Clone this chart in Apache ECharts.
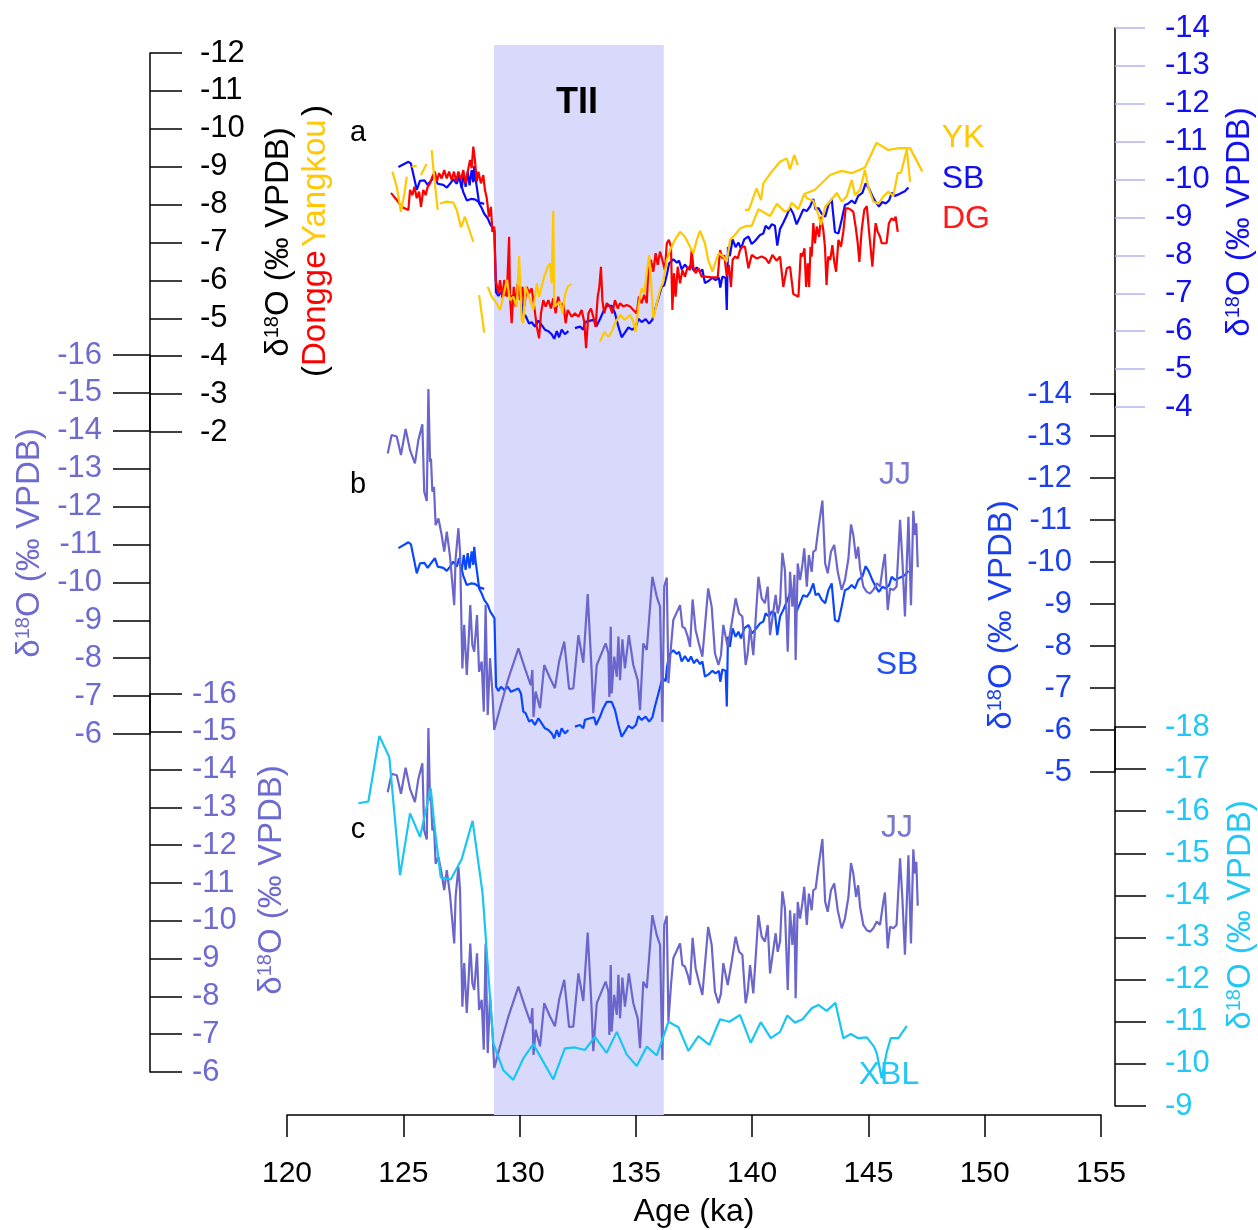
<!DOCTYPE html>
<html>
<head>
<meta charset="utf-8">
<title>TII δ18O records</title>
<script src="https://cdn.jsdelivr.net/npm/echarts@6/dist/echarts.min.js"></script>
<style>
    html, body { margin: 0; padding: 0; background: #fff; }
    #main { width: 1258px; height: 1230px; }
</style>
</head>
<body>
<div id="main"></div>
<script>
    // ---------------- data (age in ka, δ18O in ‰ VPDB) ----------------
    var tiiBand = [128.9, 136.2];

    // Dongge (panel a, left axis)
    var dgData = [
        [124.47,-8.31],[124.72,-8.12],[124.93,-7.94],[125.22,-7.86],[125.29,-8.39],[125.39,-8.25],[125.48,-8.47],
        [125.58,-8.17],[125.68,-8.34],[125.76,-7.94],[125.86,-8.39],[125.96,-8.25],[126.05,-8.47],[126.15,-8.56],
        [126.25,-8.74],[126.36,-8.87],[126.44,-8.61],[126.54,-8.83],[126.65,-8.69],[126.76,-8.91],[126.87,-8.69],
        [126.97,-8.87],[127.08,-8.65],[127.18,-8.87],[127.27,-8.61],[127.37,-8.87],[127.48,-8.65],[127.58,-8.91],
        [127.68,-8.56],[127.77,-8.87],[127.87,-9.18],[127.94,-8.96],[128.01,-9.53],[128.08,-9.18],[128.16,-8.61],
        [128.23,-8.87],[128.34,-8.56],[128.44,-8.78],[128.51,-8.39],[128.59,-8.17],[128.68,-7.68],[128.77,-7.94],
        [128.83,-7.28],[128.91,-7.42],[128.97,-6.01],[129.09,-5.66],[129.16,-6.01],[129.26,-5.53],[129.34,-6.01],
        [129.45,-5.57],[129.55,-7.15],[129.59,-5.57],[129.66,-4.87],[129.75,-5.83],[129.83,-5.31],[129.92,-5.92],
        [130.02,-5.48],[130.12,-5.83],[130.20,-5.31],[130.31,-5.83],[130.41,-5.66],[130.52,-5.79],[130.63,-5.31],
        [130.74,-4.78],[130.84,-4.47],[130.92,-5.13],[131.02,-5.48],[131.12,-5.31],[131.24,-5.48],[131.35,-5.26],
        [131.45,-5.53],[131.55,-5.13],[131.66,-5.57],[131.78,-5.31],[131.88,-5.40],[131.98,-4.87],[132.07,-5.22],
        [132.24,-5.04],[132.38,-5.13],[132.53,-5.04],[132.67,-5.22],[132.78,-4.91],[132.86,-4.21],[132.96,-5.13],
        [133.07,-5.26],[133.17,-5.04],[133.27,-4.78],[133.36,-5.57],[133.43,-5.83],[133.50,-6.36],[133.56,-5.48],
        [133.64,-5.13],[133.75,-5.40],[133.89,-5.31],[133.99,-5.13],[134.10,-5.48],[134.22,-5.26],[134.32,-5.40],
        [134.46,-5.31],[134.61,-5.35],[134.75,-5.31],[134.89,-5.22],[135.04,-5.13],[135.13,-5.57],[135.25,-5.40],
        [135.36,-5.62],[135.47,-5.40],[135.54,-6.36],[135.65,-6.54],[135.75,-6.23],[135.85,-6.72],[135.94,-6.41],
        [136.04,-6.76],[136.14,-6.54],[136.25,-6.27],[136.33,-6.98],[136.42,-7.07],[136.51,-6.89],[136.57,-5.22],
        [136.64,-6.19],[136.71,-5.57],[136.80,-6.36],[136.90,-5.92],[137.00,-6.27],[137.11,-6.10],[137.23,-6.36],
        [137.33,-6.27],[137.40,-6.80],[137.47,-6.36],[137.57,-6.19],[137.69,-6.32],[137.83,-6.10],[137.97,-6.10],
        [138.26,-6.08],[138.52,-6.08],[138.62,-6.80],[138.72,-6.58],[138.80,-6.67],[138.91,-6.10],[139.00,-6.41],
        [139.09,-5.83],[139.16,-6.54],[139.26,-6.63],[139.38,-6.58],[139.48,-6.80],[139.58,-6.89],[139.69,-6.89],
        [139.84,-6.32],[139.98,-6.67],[140.19,-6.58],[140.41,-6.63],[140.58,-6.58],[140.72,-6.45],[140.87,-6.67],
        [141.05,-6.52],[141.20,-6.63],[141.34,-5.83],[141.49,-6.32],[141.63,-6.36],[141.77,-5.64],[141.87,-5.61],
        [141.99,-5.57],[142.09,-6.72],[142.16,-6.63],[142.25,-6.85],[142.32,-5.83],[142.39,-6.45],[142.45,-5.83],
        [142.51,-6.89],[142.56,-6.63],[142.63,-7.51],[142.70,-6.98],[142.78,-7.42],[142.88,-7.15],[142.96,-7.68],
        [143.06,-7.33],[143.13,-6.89],[143.20,-5.88],[143.27,-6.63],[143.36,-6.54],[143.45,-6.93],[143.53,-6.49],
        [143.61,-6.23],[143.71,-7.07],[143.82,-6.89],[143.92,-7.28],[144.02,-7.90],[144.14,-7.90],[144.25,-7.86],
        [144.35,-7.81],[144.45,-7.42],[144.54,-6.98],[144.61,-6.49],[144.71,-7.33],[144.82,-7.86],[144.93,-7.96],
        [145.02,-7.33],[145.11,-6.76],[145.17,-6.36],[145.25,-7.07],[145.31,-7.51],[145.40,-7.28],[145.50,-7.15],
        [145.57,-6.98],[145.64,-6.93],[145.78,-6.98],[145.88,-7.51],[146.00,-7.64],[146.10,-7.58],[146.17,-7.68],
        [146.26,-7.28]
    ];

    // Yangkou (panel a, left axis), null = gap between pieces
    var ykData = [
        [124.53,-8.87],[124.72,-8.47],[124.90,-7.81],[125.05,-8.30],[125.15,-8.74], null,
        [125.36,-9.00],[125.58,-9.02], null,
        [125.76,-8.78],[126.00,-9.07], null,
        [126.22,-9.44],[126.34,-8.65],[126.48,-7.86], null,
        [126.58,-8.03],[126.87,-8.08],[127.15,-8.05],[127.30,-7.86],[127.48,-7.40],[127.65,-7.68],[127.83,-7.35],[128.01,-7.02], null,
        [128.26,-5.61],[128.48,-4.62], null,
        [128.63,-5.83],[128.80,-5.57],[129.01,-5.40],[129.16,-5.22],[129.30,-5.57],[129.45,-6.01],[129.59,-5.48],
        [129.73,-5.57],[129.88,-5.31],[129.98,-6.64],[130.09,-4.96],[130.16,-4.87],[130.26,-5.83],[130.38,-5.62],
        [130.59,-5.22],[130.74,-5.92],[130.84,-5.57],[130.95,-5.83],[131.06,-6.10],[131.21,-6.36],[131.31,-6.45],
        [131.38,-5.92],[131.45,-7.84],[131.49,-5.31],[131.74,-5.44],[131.84,-5.13],[131.95,-5.61],[132.07,-5.83],
        [132.17,-5.88],[132.24,-5.90], null,
        [133.46,-4.38],[133.64,-4.64],[133.82,-4.51],[133.96,-4.64],[134.10,-4.87],[134.32,-5.09],[134.53,-4.96],
        [134.75,-5.09],[134.89,-4.91],[134.99,-4.64],[135.13,-5.40],[135.25,-5.79],[135.36,-5.66],[135.47,-6.19],
        [135.57,-6.67],[135.65,-6.01],[135.75,-5.00],[135.90,-5.40],[136.04,-5.75],[136.18,-5.97],[136.33,-6.54],
        [136.47,-6.80],[136.68,-7.07],[136.90,-7.28],[137.11,-7.15],[137.33,-6.89],[137.47,-6.72],[137.62,-7.07],
        [137.76,-7.31],[137.97,-6.98],[138.11,-6.54],[138.29,-6.23],[138.48,-6.58],[138.57,-6.72],[138.76,-6.63],
        [138.91,-6.49],[139.05,-7.07],[139.26,-7.20],[139.48,-7.37],[139.77,-7.44],[139.98,-7.44],[140.27,-7.88],
        [140.77,-7.70],[141.06,-8.02],[141.41,-7.81],[141.56,-7.86],[141.70,-8.05],[141.99,-7.88],[142.24,-8.28],
        [142.70,-8.39],[143.35,-8.78],[143.85,-8.89],[144.28,-8.83],[144.85,-8.98],[145.35,-9.63],[145.85,-9.44],
        [146.29,-9.49],[146.79,-9.49],[147.32,-8.87], null,
        [139.69,-7.86],[139.86,-7.86],[140.19,-8.43],[140.38,-8.12],[140.48,-8.56],[140.84,-8.87],[141.20,-9.13],
        [141.49,-9.22],[141.63,-8.93],[141.81,-9.31],[141.96,-9.04], null,
        [142.24,-8.28],[142.35,-8.17],[142.63,-8.10],[142.82,-7.79],[142.96,-7.46],[143.13,-7.93],[143.39,-8.12],
        [143.64,-8.31],[143.85,-8.08],[144.06,-8.21],[144.28,-8.65],[144.42,-8.25],[144.64,-8.39],[144.85,-8.91],
        [144.99,-8.47],[145.21,-8.08],[145.42,-8.02],[145.64,-8.21],[145.85,-8.34],[146.07,-8.23],[146.26,-8.83],
        [146.40,-8.84],[146.46,-8.83],[146.65,-9.46],[146.79,-8.60]
    ];

    // Sanbao (panels a and b, right axes)
    var sbData = [
        [124.79,-10.33],[125.22,-10.47],[125.33,-10.42],[125.58,-9.73],[125.72,-9.97],[125.91,-9.98],[126.05,-9.86],
        [126.19,-9.97],[126.36,-10.09],[126.48,-9.89],[126.72,-9.86],[126.87,-9.79],[127.01,-9.89],[127.15,-10.01],
        [127.30,-9.89],[127.40,-10.09],[127.51,-9.77],[127.60,-10.17],[127.68,-9.81],[127.77,-10.21],[127.85,-9.85],
        [127.94,-10.25],[128.01,-9.93],[128.05,-10.36],[128.11,-10.01],[128.17,-9.77],[128.26,-9.37],[128.37,-9.25],
        [128.48,-9.10],[128.63,-8.98],[128.74,-8.82],[128.83,-8.74],[128.92,-8.66],[128.99,-7.03],[129.09,-6.93],
        [129.20,-7.03],[129.34,-6.95],[129.49,-7.03],[129.63,-6.91],[129.80,-6.95],[129.95,-6.99],[130.06,-6.87],
        [130.16,-6.44],[130.26,-6.40],[130.41,-6.20],[130.52,-6.24],[130.66,-6.12],[130.81,-6.28],[130.95,-6.16],
        [131.09,-6.04],[131.24,-6.00],[131.38,-5.92],[131.49,-5.80],[131.60,-6.00],[131.70,-5.84],[131.81,-6.04],
        [131.95,-5.92],[132.10,-6.00], null,
        [132.38,-6.08],[132.60,-6.12],[132.74,-6.04],[132.81,-6.24],[133.03,-6.28],[133.21,-6.30],[133.29,-6.12],
        [133.46,-6.32],[133.60,-6.52],[133.75,-6.67],[133.96,-6.67],[134.10,-6.48],[134.25,-6.12],[134.39,-5.84],
        [134.53,-5.96],[134.68,-6.10],[134.85,-6.04],[135.00,-6.12],[135.11,-6.33],[135.25,-6.24],[135.42,-6.32],
        [135.57,-6.20],[135.71,-6.30],[135.82,-6.56],[135.97,-6.87],[136.11,-7.17],[136.22,-7.21],[136.28,-7.16],
        [136.34,-7.51],[136.43,-7.79],[136.61,-7.90],[136.76,-7.81],[136.86,-7.86],[136.97,-7.63],[137.11,-7.76],
        [137.26,-7.63],[137.37,-7.75],[137.50,-7.59],[137.62,-7.68],[137.76,-7.57],[137.86,-7.63],[137.97,-7.27],
        [138.14,-7.33],[138.29,-7.41],[138.43,-7.35],[138.57,-7.41],[138.63,-7.15],[138.72,-7.44],[138.86,-7.41],
        [138.91,-6.56],[138.96,-8.22],[139.04,-7.98],[139.16,-8.42],[139.29,-8.22],[139.41,-8.34],[139.52,-8.18],
        [139.66,-8.42],[139.84,-8.50],[139.98,-8.30],[140.12,-8.38],[140.34,-8.54],[140.48,-8.58],[140.58,-8.78],
        [140.72,-8.70],[140.84,-8.82],[140.98,-8.78],[141.08,-8.26],[141.20,-8.70],[141.34,-8.86],[141.49,-9.06],
        [141.63,-9.26],[141.77,-9.10],[141.91,-8.82],[142.06,-9.02],[142.20,-9.21],[142.35,-9.17],[142.49,-9.29],
        [142.63,-9.49],[142.73,-9.21],[142.85,-9.25],[142.99,-9.10],[143.14,-9.02],[143.28,-9.33],[143.42,-9.49],
        [143.56,-8.62],[143.71,-8.58],[143.85,-8.94],[143.99,-9.33],[144.14,-9.37],[144.28,-9.45],[144.42,-9.37],
        [144.56,-9.57],[144.74,-9.65],[144.88,-9.90],[145.02,-9.77],[145.17,-9.57],[145.31,-9.41],[145.45,-9.29],
        [145.60,-9.41],[145.74,-9.37],[145.89,-9.45],[146.00,-9.65],[146.14,-9.57],[146.29,-9.61],[146.43,-9.65],
        [146.57,-9.69],[146.72,-9.79], null,
        [127.50,-9.85],[127.58,-9.67],[127.73,-9.45],[127.91,-9.49],[128.08,-9.48],[128.30,-9.39],[128.48,-9.36]
    ];

    // Jiangjun (panels b and c, left axes)
    var jjData = [
        [124.33,-13.40],[124.50,-13.89],[124.72,-13.85],[124.90,-13.36],[125.10,-14.05],[125.29,-13.49],[125.50,-13.14],
        [125.65,-13.76],[125.82,-14.17],[125.90,-12.39],[126.01,-12.15],[126.08,-15.10],[126.15,-13.18],[126.19,-13.27],
        [126.25,-12.39],[126.32,-12.52],[126.39,-11.51],[126.51,-11.69],[126.65,-11.25],[126.76,-10.81],[126.87,-11.34],
        [127.01,-10.68],[127.08,-10.72],[127.19,-9.40],[127.25,-10.63],[127.37,-11.43],[127.44,-10.81],[127.54,-7.73],
        [127.62,-8.88],[127.73,-7.56],[127.80,-8.35],[127.88,-9.40],[127.97,-8.35],[128.05,-8.17],[128.17,-9.14],
        [128.26,-7.64],[128.37,-7.91],[128.46,-6.59],[128.54,-9.40],[128.63,-6.50],[128.73,-8.00],[128.83,-7.12],
        [128.91,-6.11],[129.16,-6.68],[129.52,-7.47],[129.95,-8.26],[130.23,-7.73],[130.48,-7.29],[130.55,-7.69],
        [130.60,-6.45],[130.69,-7.12],[130.88,-6.68],[131.06,-7.82],[131.31,-7.47],[131.52,-7.21],[131.70,-7.91],
        [131.92,-8.44],[132.13,-7.19],[132.31,-7.20],[132.53,-8.61],[132.74,-7.88],[132.93,-9.69],[133.10,-7.64],
        [133.17,-6.55],[133.32,-7.82],[133.70,-8.39],[133.82,-8.13],[133.86,-6.98],[133.92,-8.83],[133.96,-7.07],
        [134.07,-8.04],[134.18,-7.51],[134.25,-8.57],[134.32,-7.42],[134.42,-8.50],[134.53,-7.73],[134.70,-8.61],
        [134.89,-7.82],[134.96,-7.86],[135.08,-7.42],[135.18,-6.63],[135.32,-8.39],[135.47,-8.22],[135.71,-10.15],
        [135.90,-9.62],[136.04,-9.36],[136.14,-6.32],[136.22,-9.89],[136.33,-10.13],[136.40,-7.34],[136.51,-8.30],
        [136.61,-9.01],[136.90,-9.40],[137.00,-8.83],[137.11,-8.79],[137.23,-8.57],[137.33,-8.30],[137.44,-9.55],
        [137.57,-8.74],[137.71,-8.39],[137.86,-8.04],[138.11,-9.84],[138.26,-9.36],[138.40,-8.13],[138.55,-7.82],
        [138.66,-8.08],[138.76,-8.88],[138.95,-8.30],[139.12,-8.92],[139.29,-9.58],[139.44,-9.18],[139.58,-9.10],
        [139.72,-7.82],[139.81,-8.13],[139.91,-8.83],[140.05,-8.08],[140.27,-10.15],[140.41,-9.58],[140.55,-9.45],
        [140.67,-9.89],[140.77,-8.61],[140.91,-9.23],[141.01,-9.67],[141.10,-9.18],[141.20,-9.45],[141.30,-10.78],
        [141.41,-10.32],[141.53,-8.17],[141.63,-10.28],[141.73,-9.36],[141.82,-10.20],[141.87,-7.95],[141.96,-10.50],
        [142.06,-10.06],[142.16,-10.46],[142.24,-10.90],[142.35,-9.89],[142.44,-10.72],[142.56,-10.28],[142.63,-10.81],
        [142.73,-10.85],[142.85,-11.43],[143.02,-12.16],[143.14,-10.50],[143.25,-10.24],[143.39,-10.81],[143.53,-10.99],
        [143.68,-10.28],[143.85,-9.80],[143.99,-10.06],[144.14,-10.63],[144.25,-11.53],[144.35,-11.25],[144.47,-10.63],
        [144.56,-10.94],[144.64,-10.37],[144.78,-9.89],[144.93,-9.75],[145.07,-9.71],[145.21,-9.80],[145.36,-9.98],
        [145.50,-9.89],[145.64,-10.50],[145.71,-10.75],[145.83,-9.27],[145.93,-9.84],[146.07,-9.80],[146.21,-9.89],
        [146.36,-11.65],[146.46,-10.59],[146.57,-9.10],[146.72,-11.73],[146.83,-9.40],[146.93,-11.89],[147.00,-11.25],
        [147.06,-11.56],[147.12,-10.40]
    ];

    // Xiaobailong (panel c, right axis)
    var xblData = [
        [123.07,-16.19],[123.50,-16.23],[123.97,-17.79],[124.40,-17.28],[124.86,-14.48],[125.29,-15.95],[125.72,-15.39],
        [126.18,-16.54],[126.36,-15.55],[126.61,-14.43],[127.04,-14.38],[127.51,-14.86],[127.98,-15.77],[128.41,-14.05],
        [128.87,-10.49],[129.30,-9.85],[129.73,-9.62],[130.16,-10.13],[130.59,-10.47],[131.45,-9.63],[131.95,-10.37],
        [132.38,-10.39],[132.81,-10.33],[133.24,-10.64],[133.74,-10.26],[134.18,-10.76],[134.61,-10.22],[135.04,-9.95],
        [135.47,-10.41],[135.90,-10.20],[136.40,-11.00],[136.83,-10.87],[137.26,-10.31],[137.69,-10.66],[138.16,-10.45],
        [138.62,-11.06],[139.02,-11.00],[139.48,-11.16],[139.94,-10.50],[140.37,-10.99],[140.80,-10.61],[141.20,-10.76],
        [141.51,-11.15],[141.84,-10.98],[142.17,-11.06],[142.56,-11.32],[142.85,-11.40],[143.20,-11.26],[143.58,-11.45],
        [143.92,-10.61],[144.24,-10.71],[144.56,-10.61],[144.93,-10.63],[145.24,-10.41],[145.36,-10.25],[145.57,-9.66],
        [145.79,-10.29],[145.96,-10.61],[146.29,-10.61],[146.65,-10.90]
    ];

    // ---------------- chart ----------------
    var FONT = '"Liberation Sans", Arial, sans-serif';
    var chart = echarts.init(document.getElementById('main'));

    // split an array with null gaps into separate pieces
    function pieces(arr) {
        var out = [], cur = [];
        arr.forEach(function (p) {
            if (p === null) { if (cur.length) out.push(cur); cur = []; }
            else cur.push(p);
        });
        if (cur.length) out.push(cur);
        return out;
    }

    // panel grids: [top, height]
    var gridBoxes = [
        [53, 379],   // 0 a left  (DG / YK)
        [28, 379],   // 1 a right (SB)
        [355, 379],  // 2 b left  (JJ)
        [394, 378],  // 3 b right (SB)
        [694, 378],  // 4 c left  (JJ)
        [727, 379],  // 5 c right (XBL)
        [45, 1070]   // 6 age axis + TII band
    ];
    var grids = gridBoxes.map(function (b) {
        return {left: 287, right: 157, top: b[0], height: b[1]};
    });

    var xAxes = gridBoxes.map(function (b, i) {
        return {
            gridIndex: i, type: 'value', min: 120, max: 155, interval: 5,
            show: i === 6,
            axisLine: {show: true, lineStyle: {color: '#000', width: 1.5}},
            axisTick: {show: true, length: 22, lineStyle: {color: '#000', width: 1.5}},
            axisLabel: {margin: 44, color: '#000', fontSize: 30, fontFamily: FONT},
            splitLine: {show: false}
        };
    });

    function yAx(gi, min, max, pos, inside, tickLen, tickColor, labelColor, margin) {
        return {
            gridIndex: gi, type: 'value', min: min, max: max, interval: 1, inverse: true,
            position: pos, offset: pos === 'left' ? 137 : 14,
            axisLine: {show: true, onZero: false, lineStyle: {color: '#000', width: 1.5}},
            axisTick: {show: true, inside: inside, length: tickLen, lineStyle: {color: tickColor, width: 1.5}},
            axisLabel: {inside: inside, margin: margin, color: labelColor, fontSize: 31, fontFamily: FONT},
            splitLine: {show: false}
        };
    }

    var yAxes = [
        yAx(0, -12, -2, 'left', true, 32, '#000', '#000', 50),
        yAx(1, -14, -4, 'right', false, 30, '#b4b4ee', '#1010f0', 50),
        yAx(2, -16, -6, 'left', false, 37, '#000', '#6e6bd0', 48),
        yAx(3, -14, -5, 'right', true, 25, '#000', '#1a3ff0', 43),
        yAx(4, -16, -6, 'left', true, 32, '#000', '#6e6bd0', 42),
        yAx(5, -18, -9, 'right', false, 31, '#000', '#22c8f5', 50),
        {gridIndex: 6, type: 'value', min: 0, max: 1, show: false}
    ];

    var series = [{
        type: 'line', xAxisIndex: 6, yAxisIndex: 6, data: [[120, 0]], symbol: 'none',
        lineStyle: {opacity: 0}, z: 0, silent: true,
        markArea: {silent: true, itemStyle: {color: '#d9d9fb'},
            data: [[{xAxis: tiiBand[0]}, {xAxis: tiiBand[1]}]]}
    }];

    function addLines(data, axis, color, z) {
        pieces(data).forEach(function (seg) {
            series.push({
                type: 'line', xAxisIndex: axis, yAxisIndex: axis, data: seg,
                symbol: 'none', showSymbol: false, z: z,
                lineStyle: {color: color, width: 2.2}
            });
        });
    }

    addLines(sbData, 1, '#0a0aff', 2);
    addLines(dgData, 0, '#ff0000', 3);
    addLines(ykData, 0, '#ffc800', 4);
    addLines(sbData, 3, '#0a46ff', 2);
    addLines(jjData, 2, '#6a66cc', 3);
    addLines(jjData, 4, '#6a66cc', 2);
    addLines(xblData, 5, '#19c6f3', 3);

    function label(text, x, y, color, size, bold) {
        return {type: 'text', x: x, y: y, z: 10,
            style: {text: text, fill: color, font: (bold ? 'bold ' : '') + size + 'px ' + FONT,
                align: 'center', verticalAlign: 'middle', textAlign: 'center', textVerticalAlign: 'middle'}};
    }

    function deltaTitle(x, y, color) {
        return {type: 'text', x: x, y: y, rotation: Math.PI / 2, z: 10,
            style: {text: '{n|δ}{s|18}{n|O (‰ VPDB)}', align: 'center', verticalAlign: 'middle',
                textAlign: 'center', textVerticalAlign: 'middle',
                rich: {
                    n: {fontSize: 33, fontFamily: FONT, fill: color},
                    s: {fontSize: 20, fontFamily: FONT, fill: color, verticalAlign: 'top'}
                }}};
    }

    var graphics = [
        label('TII', 577, 103, '#000', 36, true),
        label('a', 358, 133, '#000', 29),
        label('b', 358, 485, '#000', 29),
        label('c', 358, 830, '#000', 29),
        label('YK', 963, 138, '#ffc800', 32),
        label('SB', 963, 179, '#1010f0', 32),
        label('DG', 966, 219, '#ff1a1a', 32),
        label('JJ', 895, 475, '#7b78d0', 32),
        label('SB', 897, 665, '#1f4ff5', 32),
        label('JJ', 897, 828, '#7b78d0', 32),
        label('XBL', 889, 1075, '#22c8f5', 32),
        label('Age (ka)', 694, 1212, '#000', 32),
        deltaTitle(279, 242, '#000'),
        {type: 'text', x: 316, y: 241, rotation: Math.PI / 2, z: 10,
            style: {text: '{k|(}{r|Dongge} {y|Yangkou} {k|)}', align: 'center', verticalAlign: 'middle',
                textAlign: 'center', textVerticalAlign: 'middle',
                rich: {
                    k: {fontSize: 33, fontFamily: FONT, fill: '#000'},
                    r: {fontSize: 33, fontFamily: FONT, fill: '#ff0000'},
                    y: {fontSize: 33, fontFamily: FONT, fill: '#ffc800'}
                }}},
        deltaTitle(30, 543, '#6e6bd0'),
        deltaTitle(272, 880, '#6e6bd0'),
        deltaTitle(1240, 222, '#1010f0'),
        deltaTitle(1002, 615, '#1a3ff0'),
        deltaTitle(1241, 915, '#22c8f5')
    ];

    chart.setOption({
        animation: false,
        backgroundColor: '#fff',
        grid: grids,
        xAxis: xAxes,
        yAxis: yAxes,
        series: series,
        graphic: graphics
    });
</script>
</body>
</html>
